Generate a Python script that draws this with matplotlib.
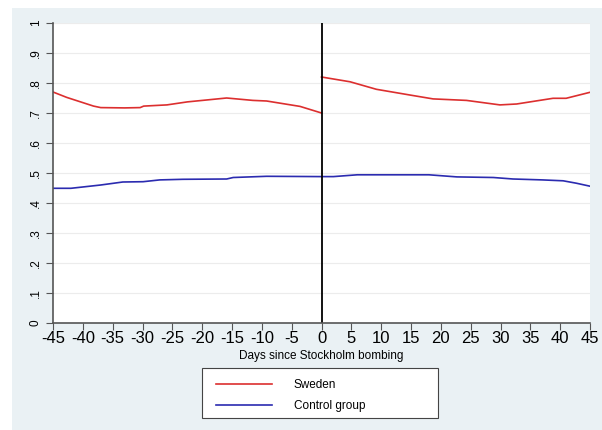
import matplotlib.pyplot as plt
from matplotlib.patches import Rectangle

plt.rcParams["font.family"] = ["Liberation Sans", "DejaVu Sans"]
plt.rcParams["axes.unicode_minus"] = False

# days relative to the event, before and after
days_pre = [-45, -42.7, -38.2, -37, -33, -30.4, -29.8, -25.9, -22.5, -15.9, -11.5, -9.2, -3.6, 0]
sweden_pre = [0.770, 0.752, 0.723, 0.718, 0.717, 0.718, 0.723, 0.727, 0.737, 0.750, 0.742, 0.740, 0.722, 0.700]
days_post = [0, 4.8, 9.2, 14.8, 18.7, 24.3, 29.9, 32.7, 38.8, 41, 45]
sweden_post = [0.820, 0.804, 0.779, 0.760, 0.747, 0.742, 0.727, 0.730, 0.749, 0.749, 0.769]

days_ctrl = [-45, -42, -37, -33.3, -29.9, -27.1, -23.2, -15.9, -14.8, -9.2, 0, 2, 6, 18, 22.7, 28.8, 32.1, 37, 40.5, 42.7, 45]
control = [0.449, 0.449, 0.460, 0.470, 0.471, 0.477, 0.479, 0.480, 0.485, 0.489, 0.488, 0.488, 0.494, 0.494, 0.487, 0.485, 0.480, 0.477, 0.474, 0.466, 0.456]

xticks = list(range(-45, 46, 5))
yticks = [i / 10 for i in range(11)]
ylabels = ["0"] + ["." + str(i) for i in range(1, 10)] + ["1"]

RED = "#dc2f2f"
NAVY = "#2b2bb0"
PANEL = "#eaf1f4"

W, H = 602, 430
fig = plt.figure(figsize=(W / 100, H / 100), dpi=100)
fig.patches.append(Rectangle((12 / W, 0), 1, 1 - 8 / H, transform=fig.transFigure,
                             facecolor=PANEL, edgecolor="none", zorder=0))

ax = fig.add_axes([53 / W, 107 / H, 537 / W, 300 / H])
ax.set_zorder(2)
ax.set_facecolor("white")

ax.plot(days_pre, sweden_pre, color=RED, lw=1.2)
ax.plot(days_post, sweden_post, color=RED, lw=1.2, label="Sweden")
ax.plot(days_ctrl, control, color=NAVY, lw=1.2, label="Control group")
ax.axvline(0, color="black", lw=1.3)

ax.set_xlim(-45, 45)
ax.set_ylim(0, 1)
ax.set_xticks(xticks)
ax.set_yticks(yticks)
ax.set_yticklabels(ylabels, rotation=90, va="center", fontsize=8.5)
ax.tick_params(axis="x", labelsize=12, length=5, color="#555555", pad=1)
ax.tick_params(axis="y", length=5, color="#555555", pad=3)
ax.grid(axis="y", color="#ececec", lw=0.8)
ax.set_axisbelow(True)

for side in ["top", "right"]:
    ax.spines[side].set_visible(False)
for side in ["left", "bottom"]:
    ax.spines[side].set_color("#555555")
    ax.spines[side].set_linewidth(1.2)

ax.set_xlabel("Days since Stockholm bombing", fontsize=8.5, labelpad=2.5)

# legend box drawn separately so the entries can sit inset from its edge
fig.patches.append(Rectangle((202 / W, 12 / H), 236 / W, 50 / H, transform=fig.transFigure,
                             facecolor="white", edgecolor="#444444", lw=0.8, zorder=1))
leg = fig.legend(loc="upper left", bbox_to_anchor=(216 / W, (H - 379) / H),
                 fontsize=8.5, frameon=False, handlelength=4.75, handletextpad=1.85,
                 borderpad=0, labelspacing=0.8, borderaxespad=0)
leg.set_zorder(3)

fig.savefig("out.png", dpi=100, facecolor="white")
